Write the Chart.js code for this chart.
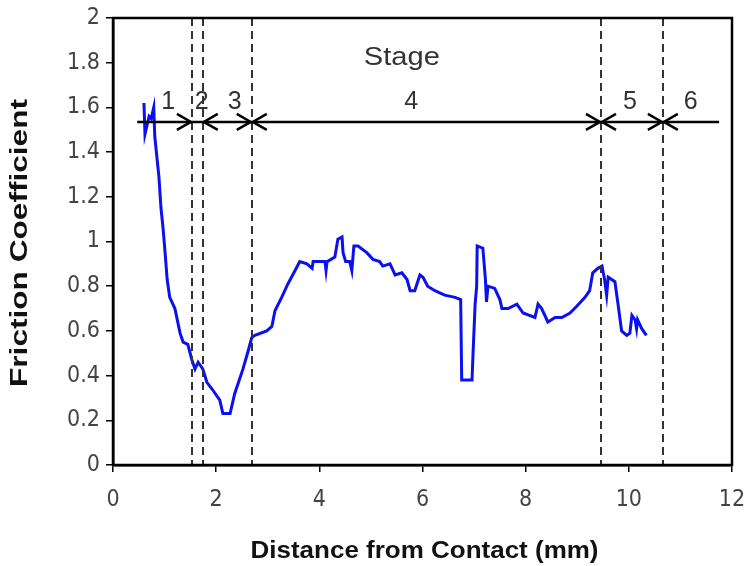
<!DOCTYPE html>
<html>
<head>
<meta charset="utf-8">
<script src="https://cdn.jsdelivr.net/npm/chart.js@4.4.0/dist/chart.umd.min.js"></script>
<style>
  body { margin: 0; background: #fff; }
  #wrap { width: 748px; height: 566px; }
</style>
</head>
<body>
<div id="wrap"><canvas id="myChart" width="748" height="566"></canvas></div>
<script>
// friction curve
var distance = [0.60, 0.62, 0.66, 0.70, 0.74, 0.79, 0.81, 0.85, 0.89, 0.93, 0.97, 1.01, 1.05, 1.10, 1.20, 1.30, 1.36, 1.45, 1.53,
  1.59, 1.65, 1.74, 1.82, 1.92, 2.07, 2.13, 2.27, 2.36, 2.52, 2.62, 2.69, 2.75, 2.98, 3.08, 3.14, 3.27, 3.39, 3.53, 3.62,
  3.76, 3.86, 3.88, 4.11, 4.13, 4.15, 4.30, 4.36, 4.44, 4.46, 4.51, 4.59, 4.63, 4.67, 4.75, 4.92, 5.04, 5.17, 5.23, 5.37,
  5.47, 5.60, 5.70, 5.76, 5.85, 5.95, 6.01, 6.10, 6.24, 6.43, 6.63, 6.74, 6.76, 6.96, 6.98, 7.02, 7.05, 7.06, 7.17, 7.22,
  7.24, 7.27, 7.40, 7.50, 7.54, 7.66, 7.83, 7.95, 8.18, 8.24, 8.31, 8.43, 8.57, 8.70, 8.86, 8.99, 9.15, 9.24, 9.30, 9.40,
  9.48, 9.53, 9.57, 9.60, 9.73, 9.79, 9.86, 9.96, 10.02, 10.06, 10.12, 10.15, 10.17, 10.25, 10.34];
var friction = [1.62, 1.48, 1.52, 1.56, 1.55, 1.60, 1.47, 1.38, 1.29, 1.15, 1.06, 0.95, 0.83, 0.75, 0.70, 0.59, 0.55, 0.54, 0.47,
  0.43, 0.46, 0.43, 0.37, 0.34, 0.29, 0.23, 0.23, 0.32, 0.43, 0.51, 0.57, 0.58, 0.60, 0.62, 0.69, 0.75, 0.81, 0.87, 0.91,
  0.90, 0.88, 0.91, 0.91, 0.87, 0.91, 0.93, 1.01, 1.02, 0.95, 0.91, 0.91, 0.87, 0.98, 0.98, 0.95, 0.92, 0.91, 0.89, 0.90,
  0.85, 0.86, 0.83, 0.78, 0.78, 0.85, 0.84, 0.80, 0.78, 0.76, 0.75, 0.74, 0.38, 0.38, 0.50, 0.72, 0.80, 0.98, 0.97, 0.83,
  0.73, 0.80, 0.79, 0.74, 0.70, 0.70, 0.72, 0.68, 0.66, 0.72, 0.70, 0.64, 0.66, 0.66, 0.68, 0.71, 0.75, 0.78, 0.86, 0.88,
  0.89, 0.83, 0.76, 0.84, 0.82, 0.72, 0.60, 0.58, 0.59, 0.67, 0.65, 0.61, 0.65, 0.61, 0.58];

// stage boundaries (dashed lines) and labels
var stageBounds = [1.53, 1.74, 2.69, 9.46, 10.66];
var stageNames = ['1', '2', '3', '4', '5', '6'];
var stageLabelX = [1.07, 1.72, 2.36, 5.78, 10.02, 11.2];
var stageLabelY = 1.625;
var arrowY = 1.535;
var arrowStart = 0.47;
var arrowEnd = 11.75;
var stageTitle = 'Stage';
var stageTitleX = 5.6;
var stageTitleY = 1.82;

// which side of each boundary gets an arrow head (from left / from right)
var headLeft = [true, false, true, true, true];
var headRight = [false, true, true, true, true];

var yTicks = [0, 0.2, 0.4, 0.6, 0.8, 1, 1.2, 1.4, 1.6, 1.8, 2];
var xTicks = [0, 2, 4, 6, 8, 10, 12];

var xTitle = 'Distance from Contact (mm)';
var yTitle = 'Friction Coefficient';

var points = distance.map(function(d, i) { return { x: d, y: friction[i] }; });

var narrow = '"Liberation Sans Narrow", "DejaVu Sans Condensed", "Liberation Sans", Arial, sans-serif';

function arrowHead(ctx, x, y, dir) {
  // dir 1 = points right, -1 = points left
  ctx.beginPath();
  ctx.moveTo(x - dir * 14, y - 8);
  ctx.lineTo(x, y);
  ctx.lineTo(x - dir * 14, y + 8);
  ctx.stroke();
}

// draw text squeezed/stretched to a given length
function fitText(ctx, text, cx, cy, len, rot) {
  var w = ctx.measureText(text).width;
  ctx.save();
  ctx.translate(cx, cy);
  if (rot) ctx.rotate(-Math.PI / 2);
  ctx.scale(len / w, 1);
  ctx.fillText(text, 0, 0);
  ctx.restore();
}

var stagePlugin = {
  id: 'stages',
  afterDatasetsDraw: function(chart) {
    var ctx = chart.ctx;
    var xs = chart.scales.x, ys = chart.scales.y;
    var area = chart.chartArea;
    ctx.save();

    // dashed stage lines
    ctx.strokeStyle = '#333';
    ctx.lineWidth = 2;
    ctx.setLineDash([8, 5]);
    stageBounds.forEach(function(b) {
      var px = Math.round(xs.getPixelForValue(b));
      ctx.beginPath();
      ctx.moveTo(px, area.top);
      ctx.lineTo(px, area.bottom);
      ctx.stroke();
    });
    ctx.setLineDash([]);

    // arrow line
    var ay = ys.getPixelForValue(arrowY);
    ctx.strokeStyle = '#000';
    ctx.lineWidth = 2.5;
    ctx.beginPath();
    ctx.moveTo(xs.getPixelForValue(arrowStart), ay);
    ctx.lineTo(xs.getPixelForValue(arrowEnd), ay);
    ctx.stroke();
    stageBounds.forEach(function(b, i) {
      var px = xs.getPixelForValue(b);
      if (headLeft[i]) arrowHead(ctx, px - 1, ay, 1);
      if (headRight[i]) arrowHead(ctx, px + 1, ay, -1);
    });

    // labels
    ctx.fillStyle = '#333';
    ctx.font = '25px "Liberation Sans", Arial, sans-serif';
    ctx.textAlign = 'center';
    ctx.textBaseline = 'middle';
    stageNames.forEach(function(n, i) {
      ctx.fillText(n, xs.getPixelForValue(stageLabelX[i]), ys.getPixelForValue(stageLabelY));
    });
    fitText(ctx, stageTitle, xs.getPixelForValue(stageTitleX), ys.getPixelForValue(stageTitleY), 76, false);

    // box round the plot
    ctx.strokeStyle = '#000';
    ctx.lineWidth = 2.5;
    ctx.strokeRect(area.left, area.top, area.right - area.left, area.bottom - area.top);

    // axis titles
    ctx.fillStyle = '#111';
    ctx.font = 'bold 23px "Liberation Sans", Arial, sans-serif';
    fitText(ctx, xTitle, (area.left + area.right) / 2 + 2, 552, 348, false);
    fitText(ctx, yTitle, 21, 243, 288, true);
    ctx.restore();
  }
};

var tickFont = { family: narrow, size: 23 };

var ctx = document.getElementById('myChart').getContext('2d');
var myChart = new Chart(ctx, {
  type: 'scatter',
  data: {
    datasets: [{
      data: points,
      showLine: true,
      borderColor: '#0a10ee',
      borderWidth: 3,
      pointRadius: 0,
      tension: 0
    }]
  },
  options: {
    responsive: false,
    animation: false,
    layout: { padding: { top: 18, right: 16, left: 0, bottom: 0 } },
    plugins: { legend: { display: false }, tooltip: { enabled: false } },
    scales: {
      x: {
        type: 'linear',
        min: 0, max: 12,
        afterBuildTicks: function(axis) { axis.ticks = xTicks.map(function(v) { return { value: v }; }); },
        afterFit: function(axis) {
          axis.height = 101;
          axis.paddingLeft = 0;
          axis.paddingRight = 0;
        },
        grid: { drawOnChartArea: false, drawTicks: true, tickLength: 7, color: '#000', lineWidth: 1.5 },
        border: { display: true, color: '#000', width: 2.5 },
        ticks: { font: tickFont, color: '#444', padding: 14, maxRotation: 0,
          callback: function(v) { return String(v); } }
      },
      y: {
        type: 'linear',
        min: 0, max: 2,
        afterBuildTicks: function(axis) { axis.ticks = yTicks.map(function(v) { return { value: v }; }); },
        afterFit: function(axis) {
          axis.width = 113;
          axis.paddingTop = 0;
          axis.paddingBottom = 0;
        },
        grid: { drawOnChartArea: false, drawTicks: true, tickLength: 7, color: '#000', lineWidth: 1.5 },
        border: { display: true, color: '#000', width: 2.5 },
        ticks: { font: tickFont, color: '#444', padding: 6,
          callback: function(v) { return String(v); } }
      }
    }
  },
  plugins: [stagePlugin]
});
</script>
</body>
</html>
